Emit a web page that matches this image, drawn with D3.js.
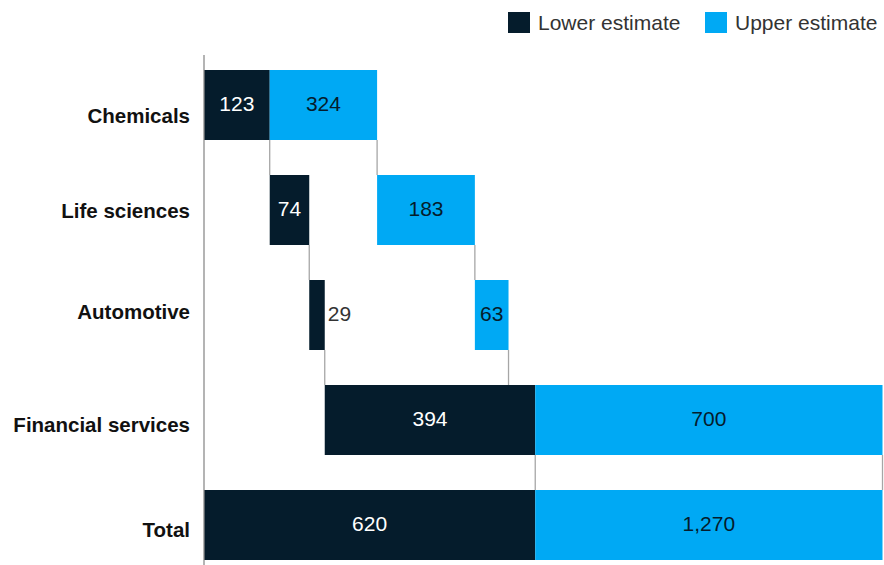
<!DOCTYPE html>
<html>
<head>
<meta charset="utf-8">
<script src="https://cdn.jsdelivr.net/npm/d3@7"></script>
<style>
  body { margin: 0; background: #fff; }
  text { font-family: "Liberation Sans", Arial, sans-serif; }
</style>
</head>
<body>
<div id="chart"></div>
<script>
// Data
var categories = ["Chemicals", "Life sciences", "Automotive", "Financial services", "Total"];
var lowerValues = [123, 74, 29, 394, 620];
var upperValues = [324, 183, 63, 700, 1270];
var seriesNames = ["Lower estimate", "Upper estimate"];

var svgWidth = 884;
var svgHeight = 565;

var colors = { lower: "#051c2c", upper: "#00a9f4" };
// small vertical nudges of the category labels, as in the original
var labelNudge = [11, 1, -3, 5, 5];

var svg = d3.select("#chart")
  .append("svg")
  .attr("width", svgWidth)
  .attr("height", svgHeight);

var xScale = d3.scaleLinear()
  .domain([0, 1270])
  .range([204, 882.5]);

var yScale = d3.scaleBand()
  .domain(categories)
  .range([52.5, 577.5])
  .paddingInner(1 / 3)
  .paddingOuter(1 / 6);

// build waterfall segments
var rows = [];
var lowCum = 0, upCum = 0;
categories.forEach(function(c, i) {
  var isTotal = i === categories.length - 1;
  var l0 = isTotal ? 0 : lowCum;
  var l1 = isTotal ? lowerValues[i] : lowCum + lowerValues[i];
  var u0 = isTotal ? l1 : Math.max(l1, upCum);
  var u1 = isTotal ? upperValues[i] : upCum + upperValues[i];
  rows.push({ cat: c, l0: l0, l1: l1, u0: u0, u1: u1, lv: lowerValues[i], uv: upperValues[i] });
  lowCum = l1;
  upCum = u1;
});

// connectors
var conn = [];
for (var i = 0; i < rows.length - 1; i++) {
  var y0 = yScale(rows[i].cat) + yScale.bandwidth();
  var y1 = yScale(rows[i + 1].cat);
  conn.push({ x: rows[i].l1, y0: y0, y1: y1 });
  conn.push({ x: rows[i].u1, y0: y0, y1: y1 });
}
svg.selectAll(".conn")
  .data(conn)
  .enter()
  .append("line")
  .attr("x1", d => xScale(d.x))
  .attr("x2", d => xScale(d.x))
  .attr("y1", d => d.y0)
  .attr("y2", d => d.y1)
  .attr("stroke", "#a6a6a6")
  .attr("stroke-width", 1.3);

// bars
var bandH = yScale.bandwidth();
svg.selectAll(".lower")
  .data(rows)
  .enter()
  .append("rect")
  .attr("x", d => xScale(d.l0))
  .attr("y", d => yScale(d.cat))
  .attr("width", d => xScale(d.l1) - xScale(d.l0))
  .attr("height", bandH)
  .attr("fill", colors.lower);

svg.selectAll(".upper")
  .data(rows)
  .enter()
  .append("rect")
  .attr("x", d => xScale(d.u0))
  .attr("y", d => yScale(d.cat))
  .attr("width", d => xScale(d.u1) - xScale(d.u0))
  .attr("height", bandH)
  .attr("fill", colors.upper);

// left axis line
svg.append("line")
  .attr("x1", 204).attr("x2", 204)
  .attr("y1", 55).attr("y2", 565)
  .attr("stroke", "#8c8c8c")
  .attr("stroke-width", 1.3);

// value labels
var narrow = d => (xScale(d.l1) - xScale(d.l0)) < 30;
svg.selectAll(".lowLabel")
  .data(rows)
  .enter()
  .append("text")
  .attr("x", d => narrow(d) ? xScale(d.l1) + 3 : (xScale(d.l0) + xScale(d.l1)) / 2)
  .attr("y", d => yScale(d.cat) + bandH / 2 - 1.5)
  .attr("dy", "0.36em")
  .attr("text-anchor", d => narrow(d) ? "start" : "middle")
  .attr("fill", d => narrow(d) ? "#333" : "#fff")
  .style("font-size", "21px")
  .text(d => d3.format(",")(d.lv));

svg.selectAll(".upLabel")
  .data(rows)
  .enter()
  .append("text")
  .attr("x", d => (xScale(d.u0) + xScale(d.u1)) / 2)
  .attr("y", d => yScale(d.cat) + bandH / 2 - 1.5)
  .attr("dy", "0.36em")
  .attr("text-anchor", "middle")
  .attr("fill", "#051c2c")
  .style("font-size", "21px")
  .text(d => d3.format(",")(d.uv));

// category labels
svg.selectAll(".catLabel")
  .data(categories)
  .enter()
  .append("text")
  .attr("x", 190)
  .attr("y", (d, i) => yScale(d) + bandH / 2 + labelNudge[i])
  .attr("dy", "0.36em")
  .attr("text-anchor", "end")
  .attr("fill", "#111")
  .style("font-size", "20.5px")
  .style("font-weight", "bold")
  .text(d => d);

// legend
var legend = svg.append("g");
var legendX = [508, 705];
seriesNames.forEach(function(name, i) {
  legend.append("rect")
    .attr("x", legendX[i])
    .attr("y", 12)
    .attr("width", 22)
    .attr("height", 21)
    .attr("fill", i === 0 ? colors.lower : colors.upper);
  legend.append("text")
    .attr("x", legendX[i] + 30)
    .attr("y", 22.5)
    .attr("dy", "0.36em")
    .attr("fill", "#333")
    .style("font-size", "21px")
    .text(name);
});
</script>
</body>
</html>
